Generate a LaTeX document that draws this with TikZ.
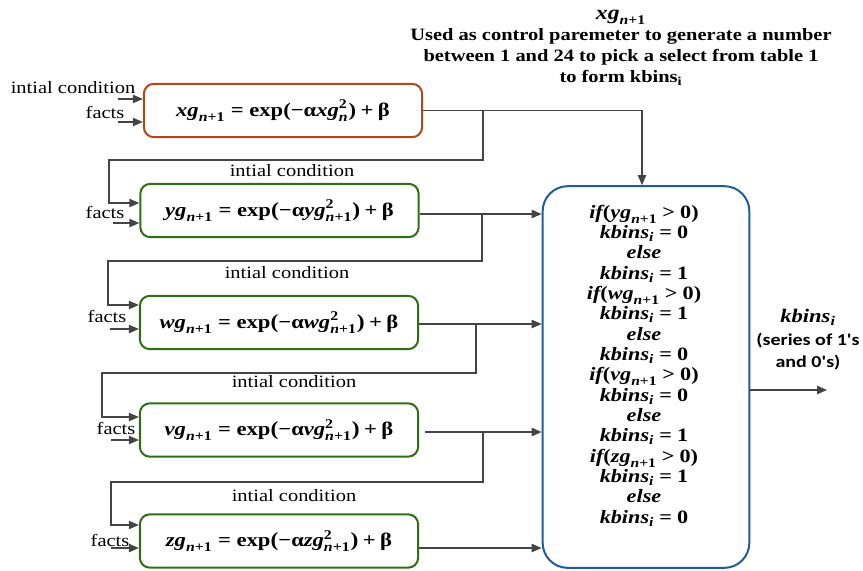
\documentclass[tikz,border=0pt]{standalone}
\usepackage{amsmath}
\usepackage{fontspec}
\setmainfont{Liberation Serif}[FakeStretch=1.18]
\newfontfamily\seriesfont{Carlito}[FakeStretch=1.2]
\usepackage{xcolor}
\definecolor{rustOrange}{HTML}{B4471A}
\definecolor{leafGreen}{HTML}{2F6E16}
\definecolor{deepBlue}{HTML}{1F5C99}
\definecolor{wireGray}{HTML}{444444}
\usepackage{tikz}
\usetikzlibrary{
    arrows.meta,
    positioning,
    calc
}
% heavy serif pieces for the formulas
\newcommand{\bt}[1]{\text{\bfseries #1}}
\newcommand{\bi}[1]{\text{\bfseries\itshape #1}}
\newcommand{\nxt}{\bi{n}\bt{+1}}
\newcommand{\bal}{\bt{α}}
\newcommand{\bbe}{\bt{β}}
\newcommand{\beq}{\mathrel{\bt{=}}}
\newcommand{\bplus}{\mathbin{\bt{+}}}
\newcommand{\bgt}{\mathrel{\bt{>}}}
\newcommand{\kb}{\bi{kbins}_{\bi{i}}}
% one chained map: letter, then the state index
\newcommand{\chainmap}[1]{$\bi{#1g}_{\nxt} \beq \bt{exp}\bt{\large(}\bt{−}\bal\bi{#1g}^{\bt{2}}_{\nxt}\bt{\large)} \bplus \bbe$}
\newcommand{\ifline}[1]{$\bi{if}\bt{(}\bi{#1g}_{\nxt} \bgt \bt{0)}$}
\tikzset{
    % Base style for the map boxes
    map base/.style={
        rectangle,
        rounded corners=6pt,
        line width=1.2pt,
        minimum width=167pt,
        minimum height=32pt,
        inner sep=0pt,
        font=\fontsize{11.5}{13}\selectfont,
    },
    % First map - rust outline
    seed map/.style={map base, draw=rustOrange},
    % Chained maps - green outline
    chain map/.style={map base, draw=leafGreen},
    % Decision block - tall rounded box
    rule box/.style={
        rectangle,
        rounded corners=15pt,
        line width=1.2pt,
        draw=deepBlue,
        minimum width=124pt,
        minimum height=229pt,
    },
    rule text/.style={
        align=center,
        inner sep=0pt,
        font=\fontsize{11.3}{12.2}\selectfont,
    },
    % Plain labels next to the wires
    tag/.style={
        inner sep=0pt,
        font=\fontsize{10.4}{12.5}\selectfont,
    },
    % Wires and arrows
    wire/.style={
        draw=wireGray,
        line width=0.8pt,
    },
    arrow/.style={
        wire,
        -{Triangle[length=6pt, width=5pt]},
    },
}

\begin{document}
\begin{tikzpicture}[x=0.6pt, y=-0.6pt]
    \useasboundingbox (0,0) rectangle (863,570);

    % maps
    \node (xg) [seed map] at (283,110.5) {$\bi{xg}_{\nxt} \beq \bt{exp(−}\bal\bi{xg}^{\bt{2}}_{\bi{n}}\bt{)} \bplus \bbe$};
    \node (yg) [chain map] at (279.5,210.5) {\chainmap{y}};
    \node (wg) [chain map] at (279,322.5) {\chainmap{w}};
    \node (vg) [chain map] at (279,430) {\chainmap{v}};
    \node (zg) [chain map] at (279,541) {\chainmap{z}};

    % decision block
    \node (rule) [rule box] at (646,377) {};
    \node (cases) [rule text] at (644,365.5) {%
        \ifline{y}\\ $\kb \beq \bt{0}$\\ $\bi{else}$\\ $\kb \beq \bt{1}$\\
        \ifline{w}\\ $\kb \beq \bt{1}$\\ $\bi{else}$\\ $\kb \beq \bt{0}$\\
        \ifline{v}\\ $\kb \beq \bt{0}$\\ $\bi{else}$\\ $\kb \beq \bt{1}$\\
        \ifline{z}\\ $\kb \beq \bt{1}$\\ $\bi{else}$\\ $\kb \beq \bt{0}$};

    % notes
    \node (note) [tag, align=center, font=\fontsize{10.4}{12.6}\selectfont\bfseries] at (621,48)
        {{\large$\bi{xg}_{\nxt}$}\\ Used as control paremeter to generate a number\\
         between 1 and 24 to pick a select from table 1\\ to form kbins\textsubscript{i}};
    \node (outlbl) [tag, align=center, font=\fontsize{10}{13.5}\selectfont\seriesfont\bfseries] at (808,340)
        {{\fontsize{11.5}{12}\selectfont\rmfamily$\kb$}\\ (series of 1's\\ and 0's)};

    \node (xinit) [tag] at (73,88) {intial condition};
    \node (xfacts) [tag] at (105,112) {facts};
    \node (yinit) [tag] at (292,171) {intial condition};
    \node (yfacts) [tag] at (105,212) {facts};
    \node (winit) [tag] at (287,273) {intial condition};
    \node (wfacts) [tag] at (107,316) {facts};
    \node (vinit) [tag] at (294,382) {intial condition};
    \node (vfacts) [tag] at (116,428) {facts};
    \node (zinit) [tag] at (294,496) {intial condition};
    \node (zfacts) [tag] at (110,540) {facts};

    % free ends and bends
    \coordinate (xin1) at (118,99);
    \coordinate (xin2) at (118,122);
    \coordinate (yin) at (113,223);
    \coordinate (win) at (110,329);
    \coordinate (vin) at (111,440);
    \coordinate (zin) at (111,548);
    \coordinate (xsplit) at (483,110.5);
    \coordinate (ysplit) at (482,214);
    \coordinate (wsplit) at (476,324);
    \coordinate (vsplit) at (483,432);
    \coordinate (yloop) at (109,160);
    \coordinate (wloop) at (108,261);
    \coordinate (vloop) at (102,373);
    \coordinate (zloop) at (111,482);
    \coordinate (kout) at (827,390);

    % inputs
    \draw [arrow] (xin1) -- (xin1 -| xg.west);
    \draw [arrow] (xin2) -- (xin2 -| xg.west);
    \draw [arrow] (yin) -- (yin -| yg.west);
    \draw [arrow] (win) -- (win -| wg.west);
    \draw [arrow] (vin) -- (vin -| vg.west);
    \draw [arrow] (zin) -- (zin -| zg.west);

    % outputs into the decision block
    \draw [arrow] (xg.east) -| ([xshift=-2.4pt]rule.north);
    \draw [arrow] (yg.east |- ysplit) -- (ysplit -| rule.west);
    \draw [arrow] (wg.east |- wsplit) -- (wsplit -| rule.west);
    \draw [arrow] ([xshift=3.6pt]vg.east |- vsplit) -- (vsplit -| rule.west);
    \draw [arrow] ([yshift=-4.2pt]zg.east) -- ([yshift=-4.2pt]zg.east -| rule.west);
    \draw [arrow] (rule.east |- kout) -- (kout);

    % feedback of each state into the next map
    \draw [arrow] (xsplit) |- (yloop) |- ([yshift=4.5pt]yg.west);
    \draw [arrow] (ysplit) |- (wloop) |- ([yshift=10.5pt]wg.west);
    \draw [arrow] (wsplit) |- (vloop) |- ([yshift=7.8pt]vg.west);
    \draw [arrow] (vsplit) |- (zloop) |- ([yshift=9.6pt]zg.west);
\end{tikzpicture}
\end{document}
